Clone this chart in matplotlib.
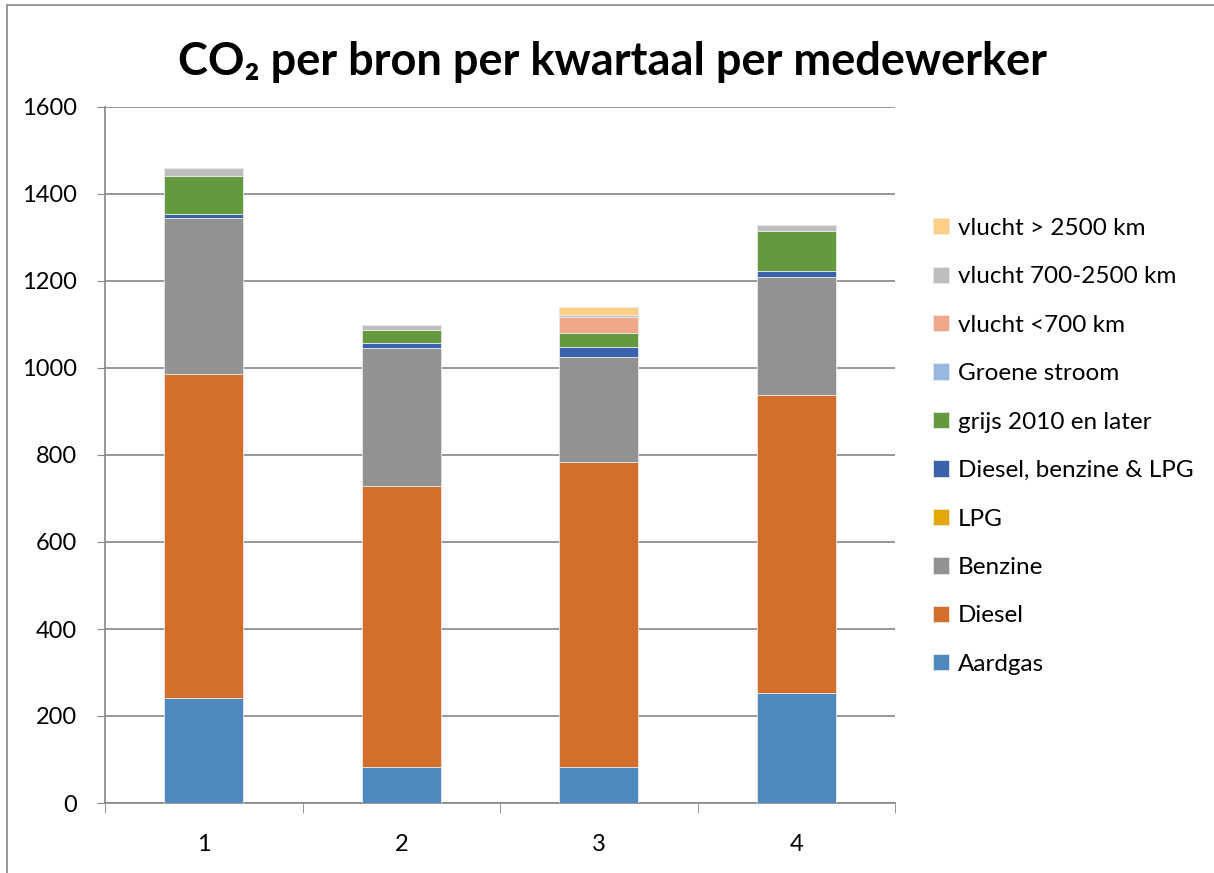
import numpy as np
import matplotlib
matplotlib.use("Agg")
import matplotlib.pyplot as plt
from matplotlib.patches import Rectangle

plt.rcParams['font.family'] = ['Lato', 'DejaVu Sans']

# kwartalen
kwartalen = ["1", "2", "3", "4"]

# CO2 per bron
aardgas = [241, 83, 82, 253]
diesel = [745, 646, 702, 685]
benzine = [358, 317, 241, 271]
lpg = [0, 0, 0, 0]
diesel_benzine_lpg = [9, 11, 24, 13]
grijs_2010 = [89, 31, 32, 94]
groene_stroom = [0, 0, 0, 0]
vlucht_kort = [0, 0, 37, 0]
vlucht_midden = [18, 11, 3, 12]
vlucht_lang = [0, 0, 20, 0]

series = [
    ("Aardgas", aardgas, "#4F89BE"),
    ("Diesel", diesel, "#D36F2B"),
    ("Benzine", benzine, "#929292"),
    ("LPG", lpg, "#E2AA00"),
    ("Diesel, benzine & LPG", diesel_benzine_lpg, "#3B63AD"),
    ("grijs 2010 en later", grijs_2010, "#629A3D"),
    ("Groene stroom", groene_stroom, "#97B9E0"),
    ("vlucht <700 km", vlucht_kort, "#F1A88A"),
    ("vlucht 700-2500 km", vlucht_midden, "#BEBEBE"),
    ("vlucht > 2500 km", vlucht_lang, "#FFCF86"),
]

fig = plt.figure(figsize=(12.14, 8.73), dpi=100)
ax = fig.add_axes([105 / 1214, 1 - 803 / 873, 790 / 1214, 696 / 873])

x = np.arange(len(kwartalen))
bottom = np.zeros(len(kwartalen))
handles = []
for naam, waarden, kleur in series:
    b = ax.bar(x, waarden, width=0.4, bottom=bottom, color=kleur,
               edgecolor="#E8E8E8", linewidth=0.6, label=naam, zorder=3)
    handles.append(b)
    bottom += np.array(waarden)

ax.set_xlim(-0.5, 3.5)
ax.set_ylim(0, 1600)
ax.set_yticks(range(0, 1601, 200))
ax.set_xticks(x)
ax.set_xticklabels(kwartalen)
ax.set_xticks(np.arange(-0.5, 3.6, 1), minor=True)
ax.tick_params(axis="x", which="major", length=0, labelsize=17, pad=22)
ax.tick_params(axis="x", which="minor", length=7, color="#868686")
ax.tick_params(axis="y", length=6, color="#868686", labelsize=17, pad=14)
ax.grid(axis="y", color="#868686", linewidth=1.2, zorder=0)
for kant in ["top", "right"]:
    ax.spines[kant].set_visible(False)
for kant in ["left", "bottom"]:
    ax.spines[kant].set_color("#868686")
    ax.spines[kant].set_linewidth(1.2)

fig.suptitle("CO₂ per bron per kwartaal per medewerker", x=613 / 1214, y=1 - 62 / 873,
             va="center", fontsize=32.5, fontweight="bold")

fig.legend(handles[::-1], [s[0] for s in series][::-1], loc="upper left",
           bbox_to_anchor=(923 / 1214, 1 - 208 / 873), frameon=False,
           fontsize=17.5, labelspacing=1.13, handlelength=0.65, handleheight=0.65,
           handletextpad=0.4, borderaxespad=0)

fig.patches.append(Rectangle((7 / 1214, -0.01), 1.2, 1 - 5 / 873 + 0.01,
                             transform=fig.transFigure, fill=False,
                             edgecolor="#868686", linewidth=1.2))

fig.savefig("out.png", dpi=100)
